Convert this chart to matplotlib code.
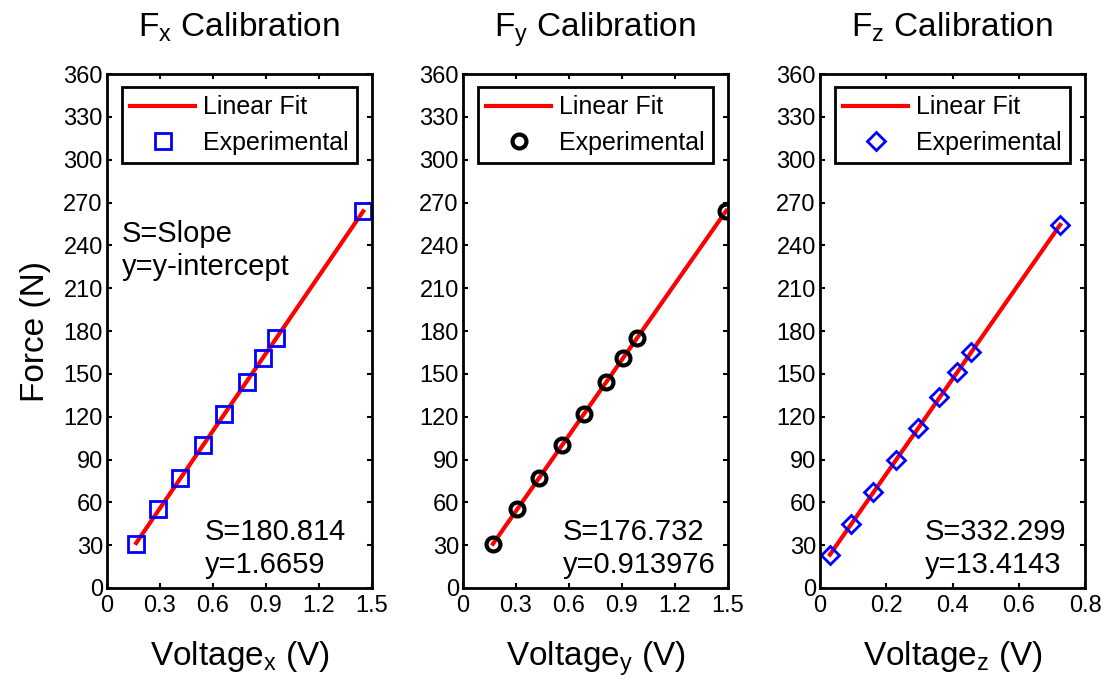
import matplotlib
matplotlib.use('Agg')
import matplotlib.pyplot as plt
import numpy as np

plt.rcParams['font.family'] = ['Liberation Sans', 'DejaVu Sans']
plt.rcParams['mathtext.fontset'] = 'custom'
plt.rcParams['mathtext.rm'] = 'Liberation Sans'
plt.rcParams['mathtext.it'] = 'Liberation Sans'
plt.rcParams['mathtext.default'] = 'regular'

# calibration data
volt_x = [0.165, 0.29, 0.415, 0.545, 0.665, 0.79, 0.885, 0.955, 1.45]
force_x = [31, 55, 77, 100, 122, 144, 161, 175, 264]
slope_x, icpt_x = 180.814, 1.6659

volt_y = [0.17, 0.305, 0.43, 0.56, 0.685, 0.81, 0.905, 0.985, 1.49]
force_y = [31, 55, 77, 100, 122, 144, 161, 175, 264]
slope_y, icpt_y = 176.732, 0.913976

volt_z = [0.03, 0.095, 0.16, 0.23, 0.297, 0.36, 0.415, 0.455, 0.725]
force_z = [23, 45, 67, 90, 112, 134, 151, 165, 254]
slope_z, icpt_z = 332.299, 13.4143

xticks_xy = [0, 0.3, 0.6, 0.9, 1.2, 1.5]
xticks_z = [0, 0.2, 0.4, 0.6, 0.8]
yticks = list(range(0, 361, 30))

panels = [
    ('x', volt_x, force_x, slope_x, icpt_x, 's', 'blue', xticks_xy),
    ('y', volt_y, force_y, slope_y, icpt_y, 'o', 'black', xticks_xy),
    ('z', volt_z, force_z, slope_z, icpt_z, 'D', 'blue', xticks_z),
]

fig = plt.figure(figsize=(11.08, 6.86), dpi=100)
lefts = [107, 463, 820]

for i, (axis, v, f, s, b, mk, col, xt) in enumerate(panels):
    ax = fig.add_axes([lefts[i] / 1108, 98 / 686, 265 / 1108, 514 / 686])

    xs = np.array([min(v), max(v)])
    ax.plot(xs, s * xs + b, color='red', lw=3, label='Linear Fit')
    if mk == 'o':
        ax.plot(v, f, mk, ms=10, mew=3, mfc='none', mec=col, label='Experimental')
    elif mk == 'D':
        ax.plot(v, f, mk, ms=9, mew=2, mfc='none', mec=col, label='Experimental')
    else:
        ax.plot(v, f, mk, ms=11, mew=2, mfc='none', mec=col, label='Experimental')

    ax.set_xlim(xt[0], xt[-1])
    ax.set_ylim(0, 360)
    ax.set_xticks(xt, ['%g' % t for t in xt])
    ax.set_yticks(yticks, [str(t) for t in yticks])
    ax.tick_params(direction='in', top=True, right=True, length=3.5, width=1.5,
                   labelsize=17, pad=5)
    ax.tick_params(axis='y', pad=3)
    for sp in ax.spines.values():
        sp.set_linewidth(2)

    ax.set_title(r'$F_%s\ Calibration$' % axis, fontsize=24, pad=27)
    ax.set_xlabel(r'$Voltage_%s\ (V)$' % axis, fontsize=24, labelpad=16)
    if i == 0:
        ax.set_ylabel('Force (N)', fontsize=24, labelpad=9)
        ax.text(0.057, 0.715, 'S=Slope\ny=y-intercept', transform=ax.transAxes,
                fontsize=21, va='top', ha='left', linespacing=1.2)

    txt_x = [0.37, 0.377, 0.396][i]
    ax.text(txt_x, 0.018, 'S=%g\ny=%g' % (s, b), transform=ax.transAxes,
            fontsize=21, va='bottom', ha='left', linespacing=1.2)

    leg = ax.legend(loc='upper center', fontsize=18, fancybox=False, framealpha=1,
                    edgecolor='black', handlelength=2.6, handletextpad=0.3,
                    labelspacing=0.45, borderpad=0.35, borderaxespad=0.5)
    leg.get_frame().set_linewidth(2)

fig.savefig('out.png', dpi=100)
